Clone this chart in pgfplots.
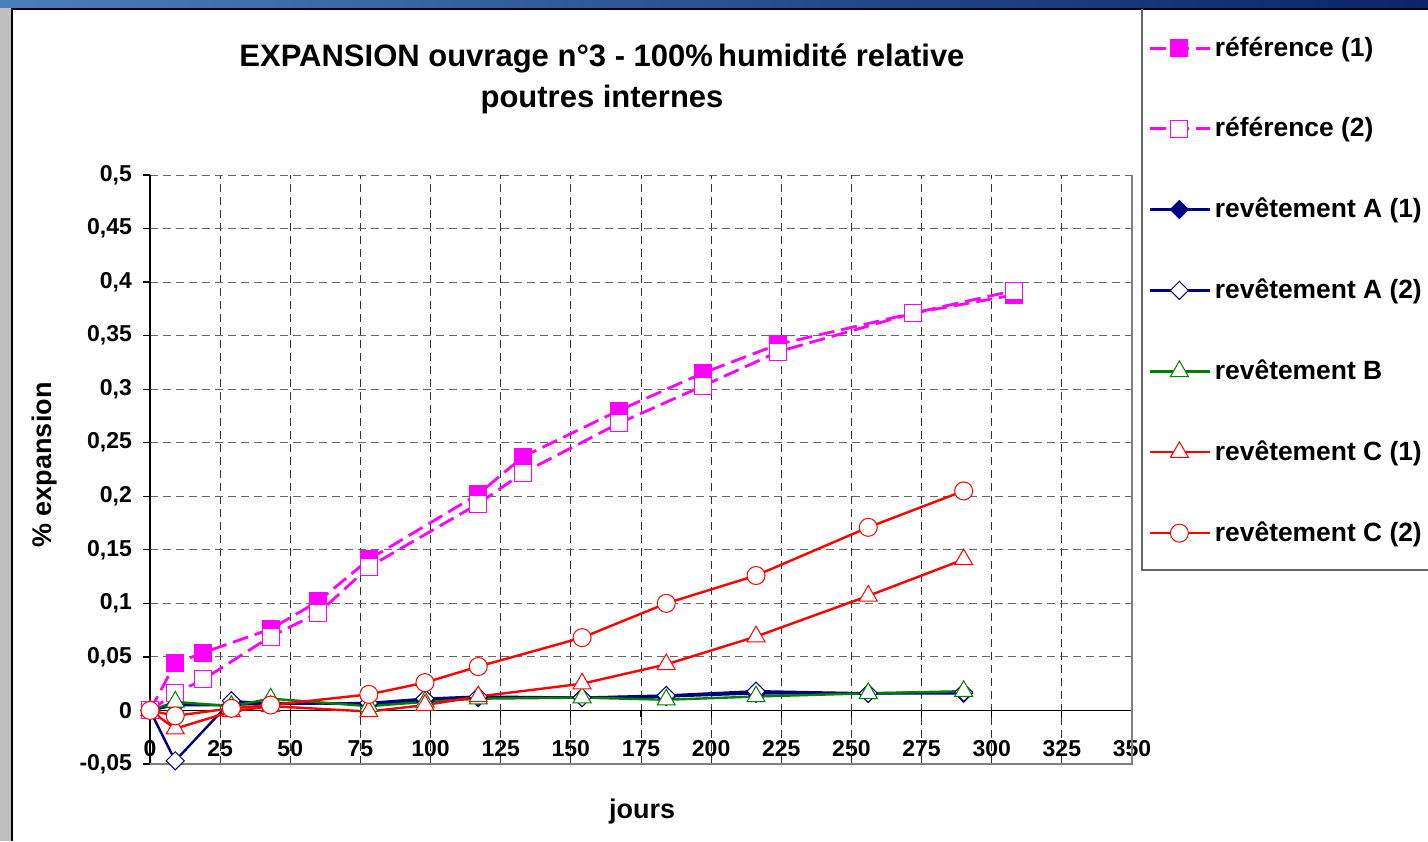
\documentclass[border=0pt]{standalone}
\usepackage{pgfplots}
\pgfplotsset{compat=1.18}
\usepackage{fontspec}
\setmainfont{Liberation Sans}
\definecolor{mag}{HTML}{FF00FF}
\definecolor{navy}{HTML}{000080}
\definecolor{grn}{HTML}{008000}
\definecolor{rd}{HTML}{FF0000}
\begin{document}
\begin{tikzpicture}
\begin{axis}[
  scale only axis, width=491pt, height=294.5pt,
  xmin=0, xmax=350, ymin=-0.05, ymax=0.5,
  xtick distance=25, ytick distance=0.05,
  axis x line=middle, axis y line=left,
  hide obscured x ticks=false, hide obscured y ticks=false,
  axis line style={-, black, line width=0.6pt},
  tick align=outside, major tick length=3.5pt,
  tick style={black, line width=0.6pt},
  grid=major,
  x grid style={black!80, dash pattern=on 4pt off 2.5pt, line width=0.5pt},
  y grid style={black!60, dash pattern=on 4pt off 2.5pt, line width=0.5pt},
  /pgf/number format/assume math mode=true,
  /pgf/number format/use comma,
  /pgf/number format/1000 sep={},
  yticklabel style={font=\fontsize{11.5}{13}\selectfont\bfseries, xshift=-2pt, /pgf/number format/fixed, /pgf/number format/precision=2},
  xticklabel style={font=\fontsize{11.5}{13}\selectfont\bfseries, yshift=-8pt},
  clip=false,
  legend cell align=left,
  legend style={draw=none, fill=none, at={(rel axis cs:1.0102,1.2767)}, anchor=north west,
    font=\fontsize{13.2}{15}\selectfont\bfseries, row sep=25.1pt, inner xsep=3pt, inner ysep=10.3pt},
  legend image code/.code={\draw[mark repeat=2,mark phase=2] plot coordinates {(0cm,0cm) (0.52cm,0cm) (1.05cm,0cm)};},
]
\draw[black!50, line width=0.6pt] (axis cs:0,-0.05) -- (axis cs:350,-0.05) -- (axis cs:350,0.5);
\addplot[mag, line width=1.4pt, dash pattern=on 8pt off 3.5pt, mark=square*, mark size=4.25pt, mark options={solid, fill=mag, draw=mag, line width=0.5pt}]
coordinates {(0,0) (9,0.044) (19,0.054) (43,0.076) (60,0.102) (78,0.141) (117,0.202) (133,0.237) (167,0.280) (197,0.315) (224,0.342) (272,0.371) (308,0.388)};
\addlegendentry{référence (1)}
\addplot[mag, line width=1.4pt, dash pattern=on 8pt off 3.5pt, mark=square*, mark size=4.25pt, mark options={solid, fill=white, draw=mag, line width=0.5pt}]
coordinates {(0,0) (9,0.016) (19,0.029) (43,0.069) (60,0.091) (78,0.134) (117,0.193) (133,0.222) (167,0.268) (197,0.303) (224,0.335) (272,0.371) (308,0.392)};
\addlegendentry{référence (2)}
\addplot[navy, line width=1.2pt, mark=square*, mark size=3.2pt, mark options={rotate=45, fill=navy, draw=navy, line width=0.5pt}]
coordinates {(0,0) (9,0.005) (29,0.005) (43,0.007) (78,0.006) (98,0.009) (117,0.012) (154,0.012) (184,0.013) (216,0.016) (256,0.016) (290,0.016)};
\addlegendentry{revêtement A (1)}
\addplot[navy, line width=1.2pt, mark=square*, mark size=3.2pt, mark options={rotate=45, fill=white, draw=navy, line width=0.5pt}]
coordinates {(0,0) (9,-0.047) (29,0.009) (43,0.006) (78,0.007) (98,0.011) (117,0.013) (154,0.012) (184,0.014) (216,0.018) (256,0.016) (290,0.017)};
\addlegendentry{revêtement A (2)}
\addplot[grn, line width=1.2pt, mark=triangle*, mark size=5.2pt, mark options={fill=white, draw=grn, line width=0.5pt}]
coordinates {(0,0) (9,0.008) (29,0.004) (43,0.011) (78,0.004) (98,0.008) (117,0.011) (154,0.012) (184,0.010) (216,0.013) (256,0.016) (290,0.018)};
\addlegendentry{revêtement B}
\addplot[rd, line width=1.2pt, mark=triangle*, mark size=5.2pt, mark options={fill=white, draw=rd, line width=0.5pt}]
coordinates {(0,0) (9,-0.017) (29,-0.001) (43,0.004) (78,-0.001) (98,0.005) (117,0.013) (154,0.025) (184,0.043) (216,0.069) (256,0.107) (290,0.141)};
\addlegendentry{revêtement C (1)}
\addplot[rd, line width=1.2pt, mark=*, mark size=4.5pt, mark options={fill=white, draw=rd, line width=0.5pt}]
coordinates {(0,0) (9,-0.005) (29,0.002) (43,0.005) (78,0.015) (98,0.026) (117,0.041) (154,0.068) (184,0.100) (216,0.126) (256,0.171) (290,0.205)};
\addlegendentry{revêtement C (2)}
\end{axis}
% titles and labels (1px = 0.5pt; plot area SW at (0,0))
\node[anchor=base, font=\fontsize{15.5}{17}\selectfont\bfseries] at (226pt,348.5pt) {EXPANSION ouvrage n°3 - 100\%\,humidité relative};
\node[anchor=base, font=\fontsize{15.5}{17}\selectfont\bfseries] at (226pt,328pt) {poutres internes};
\node[rotate=90, font=\fontsize{13.5}{15}\selectfont\bfseries] at (-52.5pt,149.5pt) {\% expansion};
\node[font=\fontsize{13.5}{15}\selectfont\bfseries] at (246pt,-24pt) {jours};
% frame
\fill[black!25] (-75pt,-38.5pt) rectangle (-69pt,382pt);
\fill[left color={rgb,255:red,74;green,126;blue,187}, right color={rgb,255:red,10;green,36;blue,106}] (-75pt,378pt) rectangle (639pt,382pt);
\draw[black, line width=0.8pt] (-69pt,-38.5pt) -- (-69pt,377.5pt) -- (639pt,377.5pt);
\draw[black!60, line width=0.6pt] (496pt,377.5pt) -- (496pt,97pt) -- (639pt,97pt);
\pgfresetboundingbox
\path[use as bounding box] (-75pt,-38.5pt) rectangle (639pt,382pt);
\end{tikzpicture}
\end{document}
